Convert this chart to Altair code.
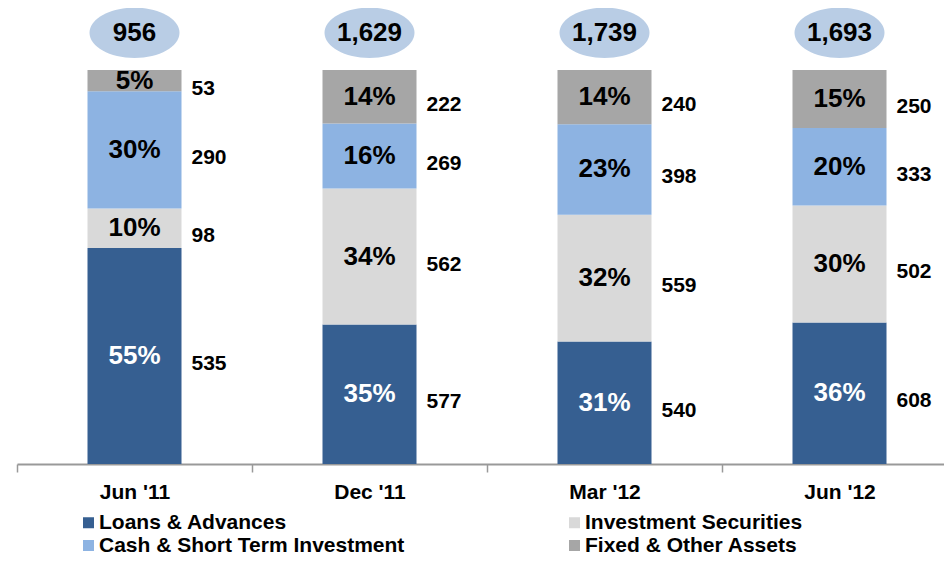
import altair as alt
import pandas as pd

periods = ["Jun '11", "Dec '11", "Mar '12", "Jun '12"]
categories = ["Loans & Advances", "Investment Securities",
              "Cash & Short Term Investment", "Fixed & Other Assets"]
colors = ["#365F91", "#D9D9D9", "#8DB3E2", "#A6A6A6"]

loans = [535, 577, 540, 608]
investment = [98, 562, 559, 502]
cash = [290, 269, 398, 333]
fixed_assets = [53, 222, 240, 250]

loans_pct = ["55%", "35%", "31%", "36%"]
investment_pct = ["10%", "34%", "32%", "30%"]
cash_pct = ["30%", "16%", "23%", "20%"]
fixed_pct = ["5%", "14%", "14%", "15%"]

totals = ["956", "1,629", "1,739", "1,693"]

rows = []
for ci, (cat, vals, pcts) in enumerate(zip(
        categories,
        [loans, investment, cash, fixed_assets],
        [loans_pct, investment_pct, cash_pct, fixed_pct])):
    for p, v, pc in zip(periods, vals, pcts):
        rows.append({"period": p, "category": cat, "order": ci, "value": v, "pct": pc})
df = pd.DataFrame(rows)
tot_df = pd.DataFrame({"period": periods, "total": totals})

FONT = "Liberation Sans"
YTOP = 1.157
ELLIPSE_Y = 1.094

yscale = alt.Scale(domain=[0, YTOP], nice=False, zero=False)
xscale = alt.Scale(domain=periods, paddingInner=0, paddingOuter=0, range=[0, 940])

X_axis = alt.X("period:N", scale=xscale, sort=periods, title=None,
               axis=alt.Axis(labelAngle=0, labelFont=FONT, labelFontSize=21,
                             labelFontWeight="bold", labelColor="black",
                             labelPadding=9, domainColor="#999999", domainWidth=2,
                             tickColor="#999999", tickWidth=1.5, tickSize=8,
                             tickBand="extent", grid=False))
X = alt.X("period:N", scale=xscale, sort=periods, title=None)

base = alt.Chart(df).transform_stack(
    stack="value", as_=["y0", "y1"], groupby=["period"],
    sort=[alt.SortField("order", order="ascending")], offset="normalize"
).transform_calculate(mid="(datum.y0 + datum.y1) / 2")

bars = base.mark_bar(width=alt.RelativeBandSize(0.4)).encode(
    x=X_axis,
    y=alt.Y("y0:Q", scale=yscale, axis=None),
    y2="y1:Q",
    color=alt.Color("category:N", scale=alt.Scale(domain=categories, range=colors),
                    legend=alt.Legend(title=None, orient="none", legendX=61, legendY=504,
                                      direction="horizontal", columns=2,
                                      symbolType="square", symbolSize=121,
                                      symbolStrokeWidth=0, labelFont=FONT,
                                      labelFontSize=21, labelFontWeight="bold",
                                      labelColor="black", columnPadding=159,
                                      rowPadding=1, labelOffset=0, labelLimit=500)),
)

pct_text = base.mark_text(font=FONT, fontSize=26, fontWeight="bold",
                          baseline="middle", align="center").encode(
    x=X,
    y=alt.Y("mid:Q", scale=yscale, axis=None),
    text="pct:N",
    color=alt.when(alt.datum.category == "Loans & Advances")
             .then(alt.value("white")).otherwise(alt.value("black")),
)

val_text = base.mark_text(font=FONT, fontSize=21, fontWeight="bold",
                          baseline="middle", align="left", dx=57, dy=8,
                          color="black").encode(
    x=X,
    y=alt.Y("mid:Q", scale=yscale, axis=None),
    text="value:Q",
)

ellipse_path = "M -1 0 A 1 0.56 0 1 1 1 0 A 1 0.56 0 1 1 -1 0 Z"
tot_base = alt.Chart(tot_df).transform_calculate(ty=str(ELLIPSE_Y))

ellipses = tot_base.mark_point(shape=ellipse_path, size=8100, filled=True,
                               color="#B9CDE5", opacity=1, strokeWidth=0).encode(
    x=X,
    y=alt.Y("ty:Q", scale=yscale, axis=None),
)
tot_text = tot_base.mark_text(font=FONT, fontSize=26, fontWeight="bold",
                              baseline="middle", align="center", color="black").encode(
    x=X,
    y=alt.Y("ty:Q", scale=yscale, axis=None),
    text="total:N",
)

chart = alt.layer(bars, pct_text, val_text, ellipses, tot_text).properties(
    width=927, height=456,
    autosize=alt.AutoSizeParams(type="none"),
    padding={"left": 9, "top": 0, "right": 0, "bottom": 90},
).configure_view(stroke=None)

chart.save("out.html", embed_options={"renderer": "svg", "actions": False})
